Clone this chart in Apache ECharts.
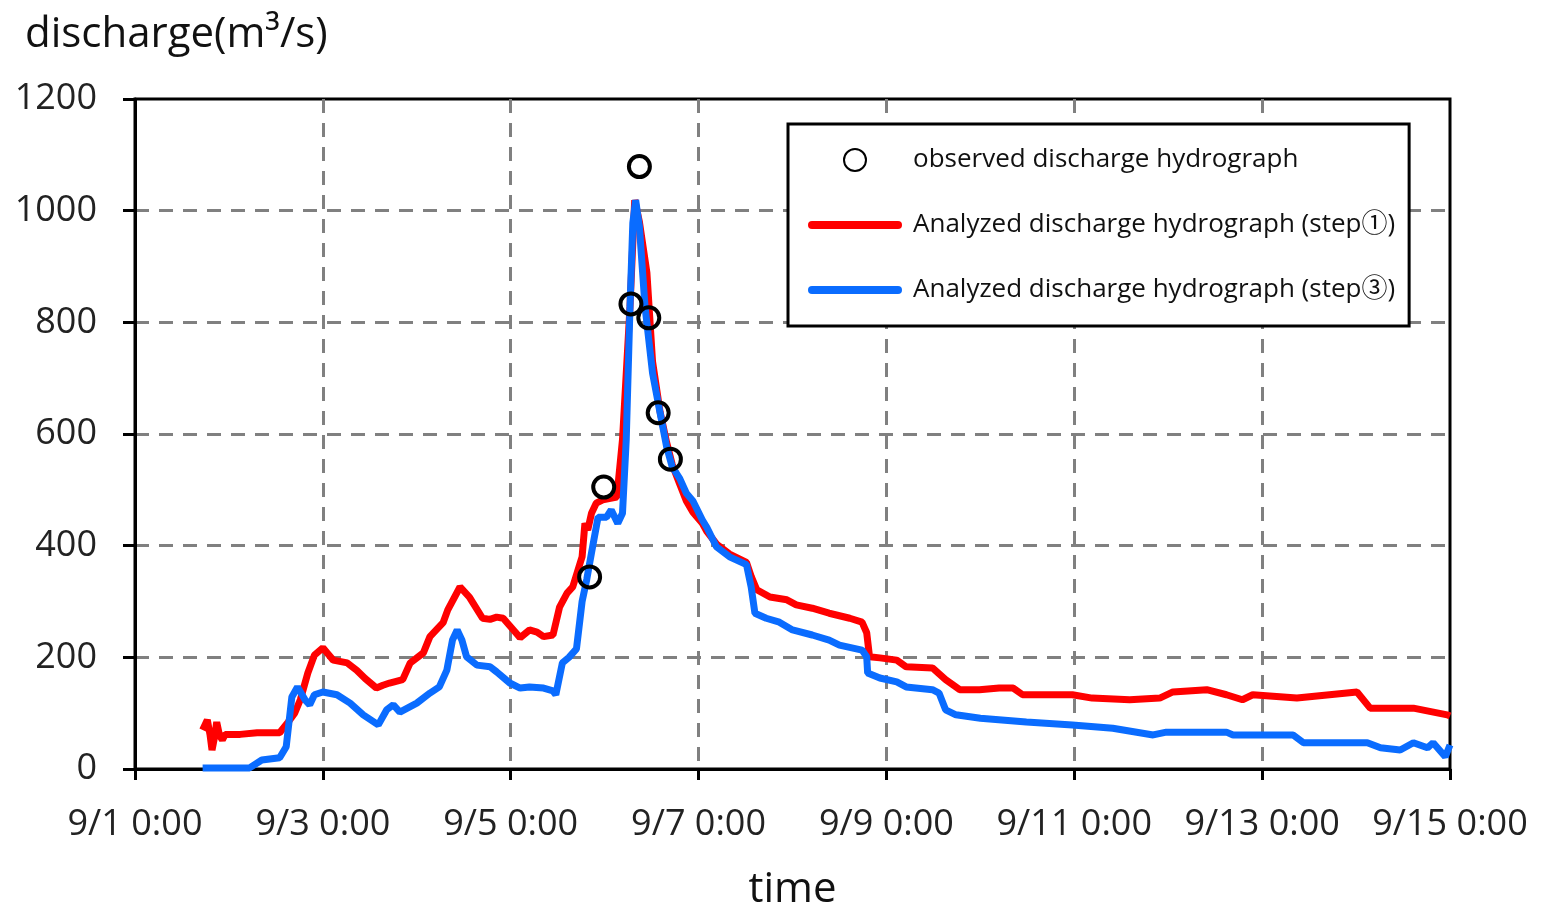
<!DOCTYPE html>
<html>
<head>
<meta charset="utf-8">
<script src="https://cdn.jsdelivr.net/npm/echarts@6/dist/echarts.min.js"></script>
<style>
  html, body { margin: 0; padding: 0; background: #fff; }
  #ch { width: 1544px; height: 907px; }
</style>
</head>
<body>
<div id="ch"></div>
<script>
// x values are days since 9/1 0:00
const xTickLabels = ['9/1 0:00', '9/3 0:00', '9/5 0:00', '9/7 0:00', '9/9 0:00', '9/11 0:00', '9/13 0:00', '9/15 0:00'];

const observed = [
  [4.84, 344], [4.99, 505], [5.28, 833], [5.37, 1079], [5.47, 808], [5.57, 638], [5.70, 555],
];

const step1 = [
  [0.72, 70], [0.77, 88], [0.80, 60], [0.82, 34], [0.85, 60], [0.87, 84], [0.90, 60], [0.93, 52],
  [0.96, 62], [1.12, 62], [1.30, 65], [1.54, 65], [1.63, 84], [1.70, 100], [1.76, 124], [1.84, 172],
  [1.91, 204], [2.00, 217], [2.06, 205], [2.11, 195], [2.26, 190], [2.36, 177], [2.45, 162], [2.57, 145],
  [2.64, 150], [2.71, 154], [2.85, 160], [2.93, 190], [3.07, 208], [3.14, 237], [3.28, 262], [3.33, 285],
  [3.46, 326], [3.56, 308], [3.70, 270], [3.78, 268], [3.85, 272], [3.92, 270], [4.05, 245], [4.10, 235],
  [4.20, 249], [4.28, 245], [4.35, 237], [4.45, 240], [4.52, 290], [4.60, 315], [4.66, 326], [4.76, 380],
  [4.79, 440], [4.82, 428], [4.86, 458], [4.91, 476], [4.98, 482], [5.13, 487], [5.19, 590], [5.27, 828],
  [5.32, 1019], [5.37, 980], [5.45, 889], [5.51, 730], [5.59, 640], [5.66, 585], [5.72, 545], [5.80, 510],
  [5.87, 480], [5.94, 460], [6.04, 440], [6.09, 425], [6.19, 403], [6.33, 385], [6.51, 370], [6.56, 345],
  [6.62, 321], [6.76, 308], [6.94, 303], [7.04, 294], [7.21, 288], [7.39, 279], [7.61, 270], [7.74, 263],
  [7.79, 244], [7.82, 201], [7.93, 199], [8.11, 195], [8.21, 183], [8.49, 181], [8.63, 160], [8.78, 142],
  [8.99, 142], [9.20, 145], [9.35, 145], [9.45, 133], [9.98, 133], [10.19, 127], [10.59, 124], [10.91, 127],
  [11.05, 138], [11.41, 142], [11.62, 133], [11.79, 124], [11.90, 133], [12.37, 127], [13.01, 138], [13.15, 109],
  [13.61, 109], [13.97, 97], [14.0, 95],
];

const step3 = [
  [0.72, 2], [1.22, 2], [1.35, 16], [1.54, 20], [1.61, 40], [1.67, 129], [1.73, 147], [1.81, 124],
  [1.86, 115], [1.91, 133], [2.00, 138], [2.15, 133], [2.29, 118], [2.43, 97], [2.59, 79], [2.68, 106],
  [2.75, 115], [2.82, 102], [3.00, 118], [3.14, 136], [3.24, 147], [3.32, 177], [3.38, 231], [3.43, 249],
  [3.48, 231], [3.53, 201], [3.64, 186], [3.78, 183], [3.85, 174], [3.99, 154], [4.10, 145], [4.20, 147],
  [4.35, 145], [4.45, 140], [4.48, 133], [4.55, 190], [4.62, 200], [4.70, 215], [4.76, 300], [4.81, 340],
  [4.86, 387], [4.93, 451], [5.02, 451], [5.07, 464], [5.14, 440], [5.19, 458], [5.23, 590], [5.27, 828],
  [5.30, 978], [5.33, 1019], [5.37, 971], [5.43, 828], [5.51, 709], [5.59, 638], [5.66, 577], [5.72, 541],
  [5.80, 520], [5.87, 494], [5.94, 480], [6.04, 446], [6.09, 432], [6.19, 398], [6.33, 380], [6.51, 366],
  [6.56, 326], [6.60, 279], [6.72, 270], [6.86, 263], [7.00, 249], [7.21, 240], [7.39, 231], [7.50, 222],
  [7.74, 213], [7.79, 201], [7.80, 172], [7.93, 163], [8.11, 156], [8.21, 147], [8.49, 142], [8.56, 136],
  [8.63, 106], [8.74, 97], [9.00, 91], [9.49, 84], [9.98, 79], [10.41, 73], [10.84, 61], [10.98, 66],
  [11.62, 66], [11.69, 61], [12.33, 61], [12.44, 47], [13.12, 47], [13.26, 38], [13.47, 34], [13.61, 47],
  [13.76, 38], [13.82, 47], [13.95, 22], [14.00, 43],
];

const FONT = '"Open Sans", "Noto Sans CJK JP", sans-serif';
const LINE_ICON = 'path://M4,0 H90 A4,4 0 0 1 90,8 H4 A4,4 0 0 1 4,0 Z';

const cht = echarts.init(document.getElementById('ch'));

const option = {
  animation: false,
  textStyle: { fontFamily: FONT },
  title: {
    text: 'discharge(m³/s)',
    left: 20,
    top: 9,
    textStyle: { fontFamily: FONT, fontSize: 42, fontWeight: 'normal', color: '#111' },
  },
  grid: {
    left: 135,
    right: 94,
    top: 99,
    bottom: 138,
    outerBoundsMode: 'none',
    containLabel: false,
    show: true,
    borderColor: '#000',
    borderWidth: 3,
  },
  legend: {
    orient: 'vertical',
    left: 788,
    top: 124,
    padding: [23, 14, 23, 20],
    itemWidth: 94,
    itemHeight: 22,
    itemGap: 39,
    borderColor: '#000',
    borderWidth: 3,
    backgroundColor: '#fff',
    textStyle: { fontFamily: FONT, fontSize: 26, color: '#111', padding: [0, 0, 0, 6] },
    data: [
      { name: 'observed discharge hydrograph' },
      { name: 'Analyzed discharge hydrograph (step①)', icon: LINE_ICON },
      { name: 'Analyzed discharge hydrograph (step③)', icon: LINE_ICON },
    ],
  },
  xAxis: {
    type: 'value',
    min: 0,
    max: 14,
    interval: 2,
    name: 'time',
    nameLocation: 'middle',
    nameGap: 100,
    nameTextStyle: { fontFamily: FONT, fontSize: 42, color: '#111' },
    axisLine: { lineStyle: { color: '#000', width: 3 } },
    axisTick: { length: 11, lineStyle: { color: '#000', width: 3 } },
    axisLabel: {
      fontSize: 36,
      color: '#222',
      margin: 38,
      formatter: (v) => xTickLabels[Math.round(v / 2)],
    },
    splitLine: {
      showMinLine: false,
      showMaxLine: false,
      lineStyle: { color: '#808080', width: 3, type: [14, 10] },
    },
  },
  yAxis: {
    type: 'value',
    min: 0,
    max: 1200,
    interval: 200,
    axisLine: { show: true, lineStyle: { color: '#000', width: 3 } },
    axisTick: { show: true, length: 12, lineStyle: { color: '#000', width: 3 } },
    axisLabel: { fontSize: 36, color: '#222', margin: 38, formatter: (v) => String(v) },
    splitLine: {
      showMinLine: false,
      showMaxLine: false,
      lineStyle: { color: '#808080', width: 3, type: [14, 10] },
    },
  },
  series: [
    {
      name: 'Analyzed discharge hydrograph (step①)',
      type: 'line',
      data: step1,
      showSymbol: false,
      symbol: 'none',
      lineStyle: { color: '#ff0000', width: 7 },
      itemStyle: { color: '#ff0000' },
      z: 2,
    },
    {
      name: 'Analyzed discharge hydrograph (step③)',
      type: 'line',
      data: step3,
      showSymbol: false,
      symbol: 'none',
      lineStyle: { color: '#0a6cff', width: 7 },
      itemStyle: { color: '#0a6cff' },
      z: 3,
    },
    {
      name: 'observed discharge hydrograph',
      type: 'scatter',
      data: observed,
      symbol: 'circle',
      symbolSize: 21,
      itemStyle: { color: 'rgba(255,255,255,0)', borderColor: '#000', borderWidth: 4, opacity: 1 },
      z: 4,
    },
  ],
};

cht.setOption(option);

window.addEventListener('resize', () => {
  cht.resize();
});
</script>
</body>
</html>
